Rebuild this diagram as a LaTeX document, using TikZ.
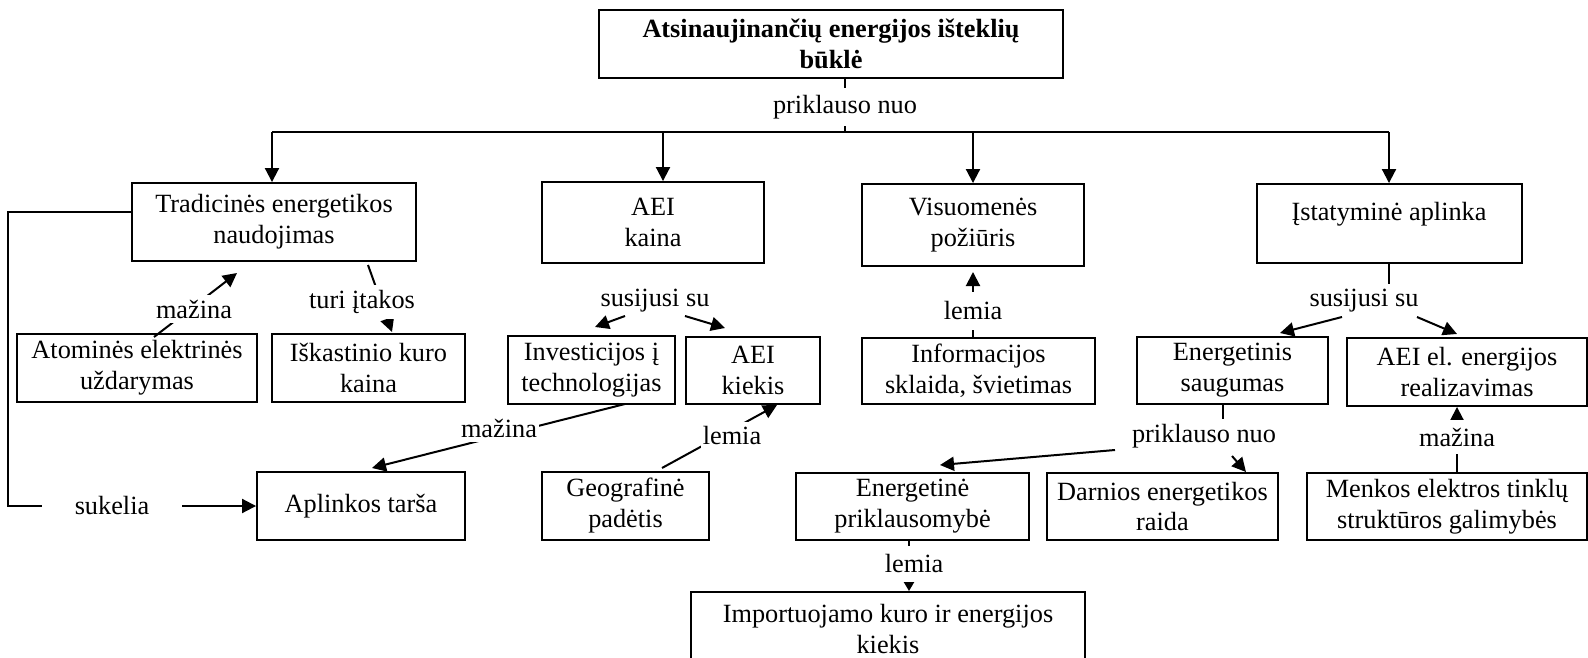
\documentclass[tikz,border=0pt]{standalone}
\usepackage{fontspec}
\setmainfont{Liberation Serif}
\usetikzlibrary{arrows.meta,backgrounds}
\newcommand{\diagfont}{\fontsize{26.3}{31}\selectfont}
\newcommand{\mybox}[6]{\node[box,minimum width={(#3)-(#2)},minimum height={(#5)-(#4)}] (#1) at ({((#2)+(#3))/2},{((#4)+(#5))/2}) {#6};}
\tikzset{
  box/.style={draw,line width=1.9pt,align=center,inner sep=0pt,font=\diagfont},
  lbl/.style={fill=white,inner xsep=2pt,inner ysep=5pt,font=\diagfont},
  conn/.style={line width=2pt},
  arr/.style={conn,-{Triangle[length=14pt,width=14pt]}},
  arrsmall/.style={conn,-{Triangle[length=9pt,width=10pt]}}
}
\begin{document}
\begin{tikzpicture}[x=1pt,y=-1pt]
\clip (0,0) rectangle (1588,658);
% boxes
\node[box,font=\diagfont\bfseries,minimum width=464,minimum height=68] (top) at (831,44) {Atsinaujinančių energijos išteklių\\būklė};
\mybox{trad}{132}{416}{183}{261}{Tradicinės energetikos\\naudojimas}
\mybox{aeik}{542}{764}{182}{263}{AEI\\kaina}
\mybox{visu}{862}{1084}{184}{266}{Visuomenės\\požiūris}
\mybox{istat}{1257}{1522}{184}{263}{}
\node[font=\diagfont,anchor=base] (istatT) at (1389,220) {Įstatyminė aplinka};
\mybox{atom}{17}{257}{334}{402}{Atominės elektrinės\\uždarymas}
\mybox{iskas}{272}{465}{334}{402}{Iškastinio kuro\\kaina}
\mybox{inv}{508}{675}{336}{404}{Investicijos į\\technologijas}
\mybox{kiek}{686}{820}{337}{404}{AEI\\kiekis}
\mybox{info}{862}{1095}{338}{404}{Informacijos\\sklaida, švietimas}
\mybox{ensaug}{1137}{1328}{337}{404}{Energetinis\\saugumas}
\mybox{aeiel}{1347}{1587}{338}{406}{AEI el. energijos\\realizavimas}
\mybox{tarsa}{257}{465}{472}{540}{Aplinkos tarša}
\mybox{geo}{542}{709}{472}{540}{Geografinė\\padėtis}
\mybox{enpr}{796}{1029}{473}{540}{Energetinė\\priklausomybė}
\mybox{darn}{1047}{1278}{473}{540}{Darnios energetikos\\raida}
\mybox{menk}{1307}{1587}{473}{540}{Menkos elektros tinklų\\struktūros galimybės}
\mybox{imp}{691}{1085}{592}{666}{Importuojamo kuro ir energijos\\kiekis}
% labels
\node[lbl,inner ysep=7pt] (pn) at (845,107) {priklauso nuo};
\node[lbl,inner xsep=33pt] (suk) at (112,506) {sukelia};
\node[lbl] (mz1) at (194,309) {mažina};
\node[lbl] (ti) at (362,302) {turi įtakos};
\node[lbl,inner ysep=2pt] (ss1) at (655,301) {susijusi su};
\node[lbl] (mz2) at (499,428) {mažina};
\node[lbl] (lm1) at (732,436) {lemia};
\node[lbl,inner ysep=10pt] (lm2) at (973,311) {lemia};
\node[lbl,inner ysep=2pt] (ss2) at (1364,301) {susijusi su};
\node[lbl] (pn2) at (1204,436) {priklauso nuo};
\node[lbl,inner ysep=8pt] (mz3) at (1457,437) {mažina};
\node[lbl,inner ysep=9pt] (lm3) at (914,564) {lemia};
% coordinates
\coordinate (bL) at (272,132);
\coordinate (bR) at (1389,132);
\coordinate (b2) at (663,132);
\coordinate (b3) at (973,132);
\coordinate (ll) at (8,212);
\coordinate (m1s) at (154,337); \coordinate (m1e) at (237,273);
\coordinate (t1s) at (368,265); \coordinate (t1e) at (392,332);
\coordinate (s1a) at (625,316); \coordinate (s1b) at (595,327);
\coordinate (s1c) at (685,316); \coordinate (s1d) at (725,328);
\coordinate (i1s) at (625,404); \coordinate (i1e) at (372,468);
\coordinate (g1s) at (662,468); \coordinate (g1e) at (777,405);
\coordinate (v1e) at (973,272);
\coordinate (s2a) at (1342,317); \coordinate (s2b) at (1280,333);
\coordinate (s2c) at (1417,317); \coordinate (s2d) at (1457,334);
\coordinate (e1) at (1223,421);
\coordinate (p2a) at (1115,450); \coordinate (p2b) at (940,465);
\coordinate (p2c) at (1232,456); \coordinate (p2d) at (1246,472);
\coordinate (lx) at (909,565);
\begin{pgfonlayer}{background}
\fill[white] (0,0) rectangle (1588,658);
\draw[conn] (top.south -| pn) -- (pn |- bL);
\draw[conn] (bL) -- (bR);
\draw[arr] (bL) -- (bL |- trad.north);
\draw[arr] (b2) -- (b2 |- aeik.north);
\draw[arr] (b3) -- (b3 |- visu.north);
\draw[arr] (bR) -- (bR |- istat.north);
\draw[arr] (trad.west |- ll) -- (ll) -- (ll |- tarsa.west) -- (tarsa.west);
\draw[arr] (m1s) -- (m1e);
\draw[arr] (t1s) -- (t1e);
\draw[arr] (s1a) -- (s1b);
\draw[arr] (s1c) -- (s1d);
\draw[arr] (i1s) -- (i1e);
\draw[arr] (g1s) -- (g1e);
\draw[arr] (info.north -| v1e) -- (v1e);
\draw[conn] (istat.south -| bR) -- ++(0,20);
\draw[arr] (s2a) -- (s2b);
\draw[arr] (s2c) -- (s2d);
\draw[conn] (ensaug.south -| e1) -- (e1);
\draw[arr] (p2a) -- (p2b);
\draw[arr] (p2c) -- (p2d);
\draw[arr] (menk.north -| mz3) -- (aeiel.south -| mz3);
\draw[arrsmall] (enpr.south -| lx) -- (imp.north -| lx);
\end{pgfonlayer}
\end{tikzpicture}
\end{document}
